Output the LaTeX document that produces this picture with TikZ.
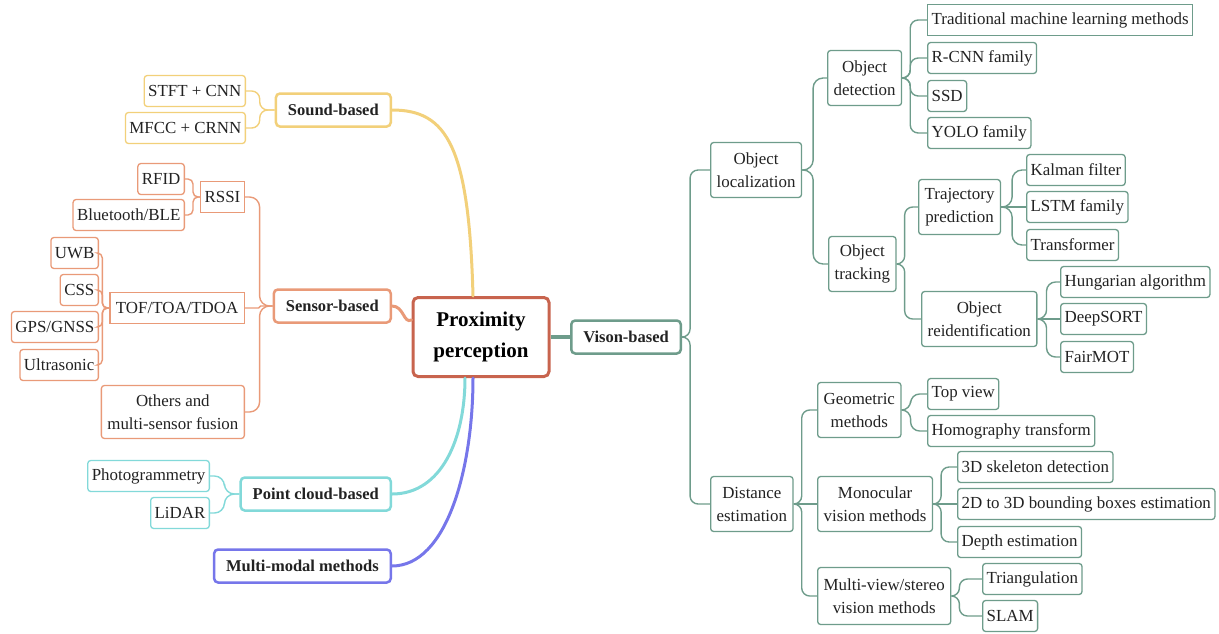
\documentclass[tikz,border=0pt]{standalone}
\usepackage{fontspec}
\setmainfont{Liberation Serif}
\definecolor{cgreen}{HTML}{6E9C8B}
\definecolor{cyellow}{HTML}{F2D07A}
\definecolor{corange}{HTML}{E99A78}
\definecolor{ccyan}{HTML}{82D9D9}
\definecolor{cblue}{HTML}{7676EA}
\definecolor{cred}{HTML}{C8644E}
\definecolor{ctext}{HTML}{222222}
\begin{document}
\begin{tikzpicture}[x=1pt,y=-1pt,
  leaf/.style={draw=#1, line width=1.3pt, rounded corners=3pt, fill=white, text=ctext,
    font=\fontsize{16.9}{23}\selectfont, inner xsep=4pt, inner ysep=0pt, minimum height=31pt, align=center},
  two/.style={leaf=#1, minimum height=55pt, inner xsep=6pt},
  sq/.style={sharp corners},
  mainbox/.style={draw=#1, line width=2.5pt, rounded corners=4pt, fill=white, text=ctext,
    font=\bfseries\fontsize{16.5}{20}\selectfont, inner xsep=12pt, inner ysep=0pt, minimum height=33pt},
  conn/.style={draw=#1, line width=1.4pt, rounded corners=8pt},
  straight/.style={draw=#1, line width=1.4pt},
  bigconn/.style={draw=#1, line width=3pt, line cap=round}
]
\useasboundingbox (0,0) rectangle (1219,633);

% centre
\node[draw=cred, line width=3pt, rounded corners=5pt, fill=white, text=black,
  font=\bfseries\fontsize{21}{31}\selectfont, align=center, inner xsep=18pt,
  minimum height=79pt, minimum width=136pt] (pp) at (481,337) {Proximity\\perception};

% left main branches
\node[mainbox=cyellow, anchor=east] (snd) at (392,110) {Sound-based};
\node[mainbox=corange, anchor=east] (sen) at (392,306) {Sensor-based};
\node[mainbox=ccyan, anchor=east] (pcb) at (392,494) {Point cloud-based};
\node[mainbox=cblue, anchor=east] (mm) at (392,566) {Multi-modal methods};

% sound leaves
\node[leaf=cyellow, anchor=east] (stft) at (246,91) {STFT + CNN};
\node[leaf=cyellow, anchor=east] (mfcc) at (246,128) {MFCC + CRNN};

% sensor
\node[leaf=corange, sq, anchor=east] (rssi) at (245,197) {RSSI};
\node[leaf=corange, anchor=east] (rfid) at (185,179) {RFID};
\node[leaf=corange, anchor=east] (ble) at (185,215) {Bluetooth/BLE};
\node[leaf=corange, sq, anchor=east, inner xsep=6pt] (tof) at (245,308) {TOF/TOA/TDOA};
\node[leaf=corange, anchor=east] (uwb) at (99,253) {UWB};
\node[leaf=corange, anchor=east] (css) at (99,290) {CSS};
\node[leaf=corange, anchor=east] (gps) at (99,327) {GPS/GNSS};
\node[leaf=corange, anchor=east] (ultra) at (99,365) {Ultrasonic};
\node[two=corange, anchor=east, minimum height=53pt] (oth) at (245,412) {Others and\\multi-sensor fusion};

% point cloud
\node[leaf=ccyan, anchor=east] (photo) at (210,476) {Photogrammetry};
\node[leaf=ccyan, anchor=east] (lidar) at (210,513) {LiDAR};

% vision
\node[mainbox=cgreen, anchor=west] (vb) at (570,337) {Vison-based};
\node[two=cgreen, anchor=west] (oloc) at (710,170) {Object\\localization};
\node[two=cgreen, anchor=west] (dist) at (710,504) {Distance\\estimation};

\node[two=cgreen, anchor=west] (odet) at (827,78) {Object\\detection};
\node[leaf=cgreen, sq, anchor=west] (trad) at (927,20) {Traditional machine learning methods};
\node[leaf=cgreen, anchor=west] (rcnn) at (927,58) {R-CNN family};
\node[leaf=cgreen, anchor=west] (ssd) at (927,96) {SSD};
\node[leaf=cgreen, anchor=west] (yolo) at (927,133) {YOLO family};

\node[two=cgreen, anchor=west] (otr) at (828,264) {Object\\tracking};
\node[two=cgreen, anchor=west] (traj) at (918,207) {Trajectory\\prediction};
\node[leaf=cgreen, anchor=west] (kal) at (1026,170) {Kalman filter};
\node[leaf=cgreen, anchor=west] (lstm) at (1026,207) {LSTM family};
\node[leaf=cgreen, anchor=west] (trf) at (1026,245) {Transformer};
\node[two=cgreen, anchor=west] (reid) at (921,319) {Object\\reidentification};
\node[leaf=cgreen, anchor=west] (hung) at (1060,282) {Hungarian algorithm};
\node[leaf=cgreen, anchor=west] (deep) at (1060,319) {DeepSORT};
\node[leaf=cgreen, anchor=west] (fair) at (1060,357) {FairMOT};

\node[two=cgreen, anchor=west] (geo) at (817,410) {Geometric\\methods};
\node[leaf=cgreen, anchor=west] (top) at (927,394) {Top view};
\node[leaf=cgreen, anchor=west] (homo) at (927,431) {Homography transform};
\node[two=cgreen, anchor=west] (mono) at (817,504) {Monocular\\vision methods};
\node[leaf=cgreen, anchor=west] (skel) at (957,467) {3D skeleton detection};
\node[leaf=cgreen, anchor=west] (bb) at (957,504) {2D to 3D bounding boxes estimation};
\node[leaf=cgreen, anchor=west] (dep) at (957,542) {Depth estimation};
\node[two=cgreen, anchor=west, minimum height=57pt] (mv) at (817,596) {Multi-view/stereo\\vision methods};
\node[leaf=cgreen, anchor=west] (tri) at (982,579) {Triangulation};
\node[leaf=cgreen, anchor=west] (slam) at (982,616) {SLAM};

% main connectors
\draw[bigconn=cyellow] ([xshift=-8pt]pp.north) .. controls +(-4,-150) and +(55,0) .. (snd.east);
\draw[bigconn=corange] (sen.east) .. controls +(12,0) and +(-8,4) .. ([yshift=17pt]pp.west);
\draw[bigconn=ccyan] (pcb.east) .. controls +(50,0) and +(0,60) .. ([xshift=-16pt]pp.south);
\draw[bigconn=cblue] (mm.east) .. controls +(55,0) and +(0,90) .. ([xshift=-8pt]pp.south);
\draw[bigconn=cgreen, line width=3.5pt, line cap=butt] (pp.east) -- (vb.west);

% left tree connectors
\foreach \c in {stft,mfcc} \draw[conn=cyellow] (snd.west) -- ++(-15,0) |- (\c.east);
\foreach \c in {rfid,ble} \draw[conn=corange, rounded corners=5pt] (rssi.west) -- ++(-7,0) |- (\c.east);
\foreach \c in {rssi,oth} \draw[conn=corange, rounded corners=10pt] (sen.west) -- ++(-13,0) |- (\c.east);
\draw[conn=corange, rounded corners=1pt] (sen.west) -- ++(-13,0) |- (tof.east);
\foreach \c in {uwb,css,gps,ultra} \draw[conn=corange, rounded corners=5pt] (tof.west) -- ++(-7,0) |- (\c.east);
\foreach \c in {photo,lidar} \draw[conn=ccyan, rounded corners=10pt] (pcb.west) -- ++(-15,0) |- (\c.east);

% right tree connectors
\foreach \c in {oloc,dist} \draw[conn=cgreen] (vb.east) -- ++(8,0) |- (\c.west);
\foreach \c in {odet,otr} \draw[conn=cgreen, rounded corners=10pt] (oloc.east) -- ++(11,0) |- (\c.west);
\foreach \c in {trad,rcnn,ssd,yolo} \draw[conn=cgreen] (odet.east) -- ++(8,0) |- (\c.west);
\foreach \c in {traj,reid} \draw[conn=cgreen] (otr.east) -- ++(8,0) |- (\c.west);
\foreach \c in {kal,trf} \draw[conn=cgreen, rounded corners=10pt] (traj.east) -- ++(11,0) |- (\c.west);
\draw[straight=cgreen] (traj.east) -- (lstm.west);
\foreach \c in {hung,fair} \draw[conn=cgreen, rounded corners=9pt] (reid.east) -- ++(9,0) |- (\c.west);
\draw[straight=cgreen] (reid.east) -- (deep.west);
\foreach \c in {geo,mv} \draw[conn=cgreen] (dist.east) -- ++(8,0) |- (\c.west);
\draw[straight=cgreen] (dist.east) -- (mono.west);
\foreach \c in {top,homo} \draw[conn=cgreen, rounded corners=9pt] (geo.east) -- ++(9,0) |- (\c.west);
\foreach \c in {skel,dep} \draw[conn=cgreen] (mono.east) -- ++(8,0) |- (\c.west);
\draw[straight=cgreen] (mono.east) -- (bb.west);
\foreach \c in {tri,slam} \draw[conn=cgreen] (mv.east) -- ++(8,0) |- (\c.west);
\end{tikzpicture}
\end{document}
